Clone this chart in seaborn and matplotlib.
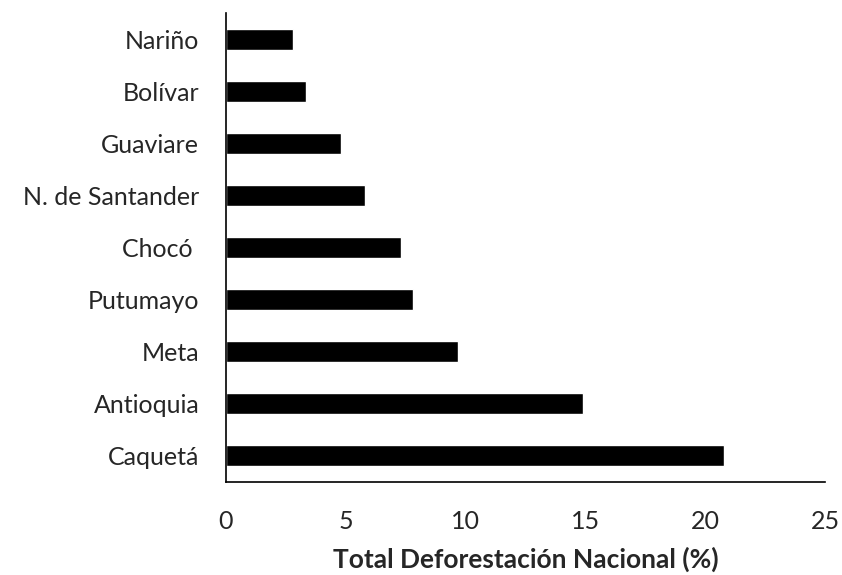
import matplotlib
matplotlib.use("Agg")
import matplotlib.pyplot as plt
import seaborn as sns
import pandas as pd

departamentos = ["Nariño", "Bolívar", "Guaviare", "N. de Santander", "Chocó ",
                 "Putumayo", "Meta", "Antioquia", "Caquetá"]
deforestacion = [2.8, 3.35, 4.8, 5.8, 7.3, 7.8, 9.7, 14.9, 20.8]
xticks = [0, 5, 10, 15, 20, 25]

df = pd.DataFrame({"dep": departamentos, "val": deforestacion})

sns.set_style("white")
plt.rcParams["font.family"] = ["Lato", "DejaVu Sans"]

fig = plt.figure(figsize=(8.42, 5.75), dpi=100)
ax = fig.add_axes([0.268, 0.162, 0.712, 0.815])

sns.barplot(data=df, x="val", y="dep", orient="h", color="black",
            width=0.4, ax=ax, saturation=1)

ax.set_xlim(0, 25)
ax.set_ylim(len(departamentos) - 0.5, -0.5)
ax.set_xticks(xticks)
ax.set_xticklabels([str(t) for t in xticks], fontsize=18)
ax.tick_params(axis="y", labelsize=18, length=0, pad=19)
ax.tick_params(axis="x", length=0, pad=20)
ax.set_ylabel("")
ax.set_xlabel("Total Deforestación Nacional (%)", fontsize=19, fontweight="bold", labelpad=10)
for s in ["top", "right"]:
    ax.spines[s].set_visible(False)
for s in ["left", "bottom"]:
    ax.spines[s].set_color("black")
    ax.spines[s].set_linewidth(1.2)

fig.savefig("out.png", dpi=100)
